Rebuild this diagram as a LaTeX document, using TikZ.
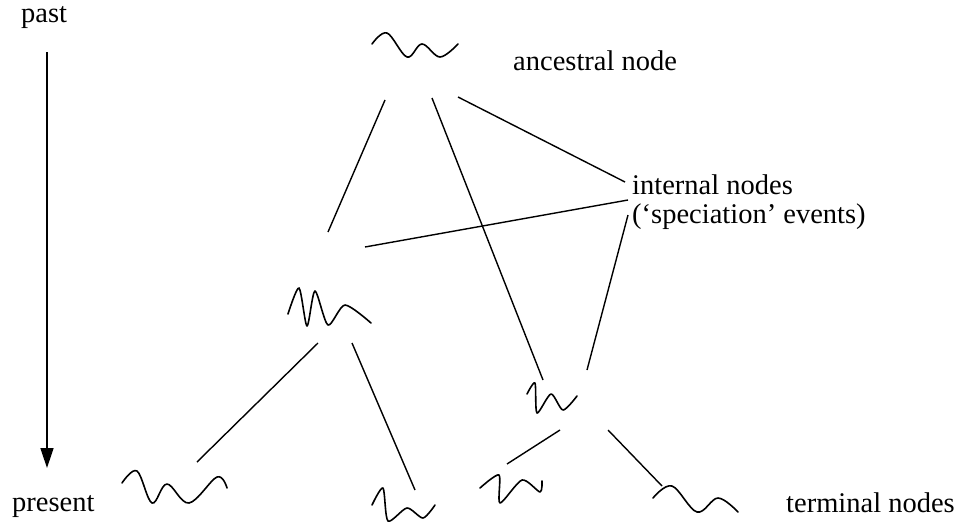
\documentclass[tikz,border=0pt]{standalone}
\usepackage{fontspec}
\setmainfont{Liberation Serif}
\usetikzlibrary{arrows.meta}
\begin{document}
\begin{tikzpicture}[x=1pt,y=-1pt,
  lbl/.style={anchor=base west,inner sep=0pt,font=\fontsize{28.5}{34}\selectfont},
  edge/.style={line width=1.4pt},
  wig/.style={line width=1.6pt,line cap=round,line join=round}]
\useasboundingbox (0,0) rectangle (957,522);
% labels
\node[lbl] (past) at (21,22) {past};
\node[lbl] (present) at (12,511) {present};
\node[lbl] (anc) at (513,70) {ancestral node};
\node[lbl] (int1) at (632,194) {internal nodes};
\node[lbl] (int2) at (632,223) {(‘speciation’ events)};
\node[lbl] (term) at (786,512) {terminal nodes};
% time arrow
\coordinate (tTop) at (47,52);
\coordinate (tBot) at (47,468);
\draw[line width=1.4pt,-{Triangle[length=20pt,width=13pt]}] (tTop) -- (tBot);
% squiggles
\draw[wig] plot[smooth,tension=0.6] coordinates {(372,44) (387,33) (407,57) (422,44) (440,57) (458,44)};
\draw[wig] plot[smooth,tension=0.45] coordinates {(288,314) (299,288) (307,326) (315,291) (328,325) (345,305) (371,323)};
\draw[wig] plot[smooth,tension=0.45] coordinates {(527,394) (535,383) (537,413) (551,394) (563,410) (577,396)};
\draw[wig] plot[smooth,tension=0.6] coordinates {(122,483) (137,471) (152,503) (167,484) (189,503) (217,477) (227,488)};
\draw[wig] plot[smooth,tension=0.45] coordinates {(372,505) (383,488) (388,521) (407,508) (423,518) (435,505)};
\draw[wig] plot[smooth,tension=0.45] coordinates {(480,488) (499,475) (500,503) (522,480) (540,492) (542,481)};
\draw[wig] plot[smooth,tension=0.6] coordinates {(653,498) (672,486) (697,512) (718,498) (738,512)};
% connector end points
\coordinate (aL) at (385,100);
\coordinate (aM) at (432,98);
\coordinate (aR) at (458,97);
\coordinate (lU) at (328,232);
\coordinate (lR) at (365,247);
\coordinate (lDL) at (318,343);
\coordinate (lDR) at (352,343);
\coordinate (rU) at (543,380);
\coordinate (rUR) at (587,370);
\coordinate (rDL) at (560,430);
\coordinate (rDR) at (608,430);
\coordinate (t1) at (197,462);
\coordinate (t2) at (415,490);
\coordinate (t3) at (507,464);
\coordinate (t4) at (662,486);
\coordinate (lab1) at (625,182);
\coordinate (lab2) at (628,200);
\coordinate (lab3) at (628,215);
% connectors
\draw[edge] (aL) -- (lU);
\draw[edge] (aM) -- (rU);
\draw[edge] (aR) -- (lab1);
\draw[edge] (lR) -- (lab2);
\draw[edge] (rUR) -- (lab3);
\draw[edge] (lDL) -- (t1);
\draw[edge] (lDR) -- (t2);
\draw[edge] (rDL) -- (t3);
\draw[edge] (rDR) -- (t4);
\end{tikzpicture}
\end{document}
